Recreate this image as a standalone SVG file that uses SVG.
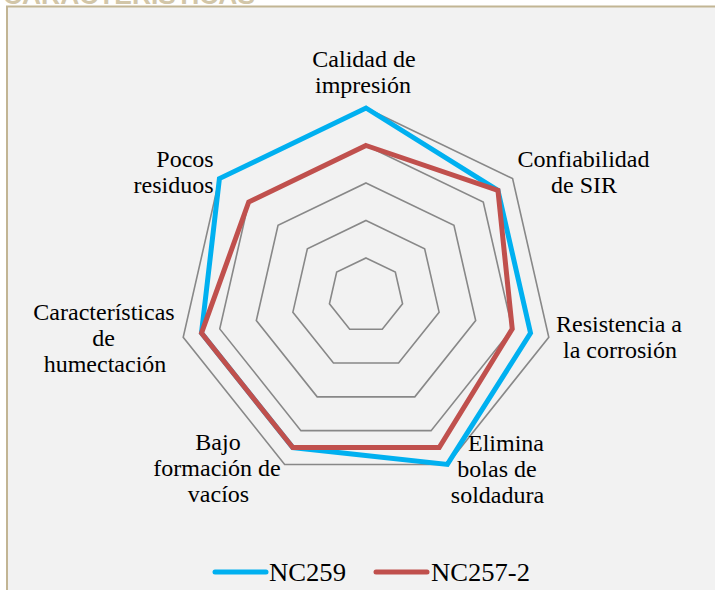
<svg xmlns="http://www.w3.org/2000/svg" width="715" height="590" viewBox="0 0 715 590">
<style>
.lbl{font-family:"Liberation Serif","Times New Roman",serif;font-size:24px;fill:#000;text-anchor:middle}
.ring{fill:none;stroke:#888888;stroke-width:1.6}
.ser{fill:none;stroke-width:5;stroke-linejoin:miter}
.leg{font-family:"Liberation Serif","Times New Roman",serif;font-size:26px;fill:#000}
</style>
<rect x="0" y="0" width="715" height="590" fill="#ffffff"/>
<text x="3" y="4" font-family="Liberation Sans, Arial, sans-serif" font-size="26" font-weight="bold" fill="#D2C6A8" textLength="252" lengthAdjust="spacingAndGlyphs">CARACTERÍSTICAS</text>
<rect id="frame" x="7" y="6.5" width="720" height="600" fill="#F2F2F2" stroke="#C2B594" stroke-width="2"/>
<g id="grid">
<polygon class="ring" points="366,258 395.32,272.12 402.56,303.84 382.27,329.29 349.73,329.29 329.44,303.84 336.68,272.12"/>
<polygon class="ring" points="366,220.5 424.64,248.74 439.12,312.19 398.54,363.07 333.46,363.07 292.88,312.19 307.36,248.74"/>
<polygon class="ring" points="366,183 453.96,225.36 475.68,320.53 414.81,396.86 317.19,396.86 256.32,320.53 278.04,225.36"/>
<polygon class="ring" points="366,145.5 483.27,201.98 512.24,328.88 431.08,430.65 300.92,430.65 219.76,328.88 248.73,201.98"/>
<polygon class="ring" points="366,108 512.59,178.6 548.8,337.22 447.35,464.43 284.65,464.43 183.2,337.22 219.41,178.6"/>
</g>
<g id="series">
<polygon id="nc259" class="ser" stroke="#00B0F0" points="366,108 497.93,190.29 530.52,333.05 447.35,464.43 292.78,447.54 201.48,333.05 219.41,178.6"/>
<polygon id="nc257" class="ser" stroke="#C0504D" points="366,145.5 497.93,190.29 512.24,328.88 439.22,447.54 292.78,447.54 201.48,333.05 248.73,201.98"/>
</g>
<g id="labels">
<g id="l-calidad"><text class="lbl" x="364" y="67">Calidad de</text><text class="lbl" x="363" y="93">impresión</text></g>
<g id="l-confiabilidad"><text class="lbl" x="583.5" y="167">Confiabilidad</text><text class="lbl" x="584" y="193">de SIR</text></g>
<g id="l-resistencia"><text class="lbl" x="619" y="332">Resistencia a</text><text class="lbl" x="620" y="358">la corrosión</text></g>
<g id="l-elimina"><text class="lbl" x="506" y="451">Elimina</text><text class="lbl" x="497" y="477">bolas de</text><text class="lbl" x="497.5" y="503">soldadura</text></g>
<g id="l-bajo"><text class="lbl" x="218" y="450">Bajo</text><text class="lbl" x="217" y="476">formación de</text><text class="lbl" x="218.5" y="502">vacíos</text></g>
<g id="l-caracteristicas"><text class="lbl" x="104" y="320">Características</text><text class="lbl" x="103.5" y="346">de</text><text class="lbl" x="105" y="372">humectación</text></g>
<g id="l-pocos"><text class="lbl" x="185" y="167">Pocos</text><text class="lbl" x="173.5" y="193">residuos</text></g>
</g>
<g id="legend">
<line x1="215" y1="572" x2="266" y2="572" stroke="#00B0F0" stroke-width="5" stroke-linecap="round"/>
<text class="leg" x="269" y="581" textLength="77" lengthAdjust="spacingAndGlyphs">NC259</text>
<line x1="376" y1="572" x2="427" y2="572" stroke="#C0504D" stroke-width="5" stroke-linecap="round"/>
<text class="leg" x="431" y="581" textLength="99" lengthAdjust="spacingAndGlyphs">NC257-2</text>
</g>
</svg>
